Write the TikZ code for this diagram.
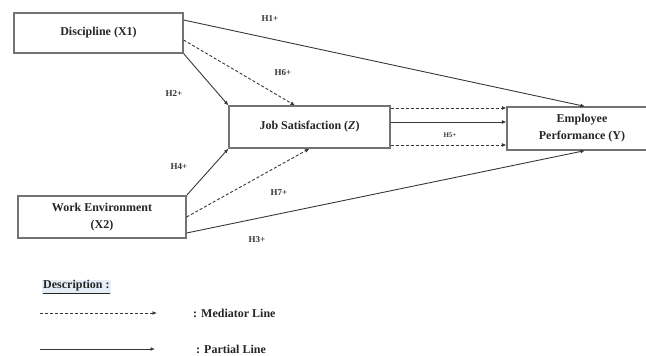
\documentclass[tikz,border=0pt]{standalone}
\usepackage{fontspec}
\setmainfont{Liberation Serif}
\usetikzlibrary{positioning,arrows.meta}
\definecolor{boxgray}{rgb}{0.45,0.45,0.45}
\definecolor{linegray}{rgb}{0.22,0.22,0.22}
\definecolor{descblue}{rgb}{0.90,0.93,0.97}
\tikzstyle{var}=[%
      rectangle, draw=boxgray, line width=1.2pt, fill=white,
      align=center, text=black!85, font=\fontsize{12}{17}\selectfont\bfseries, inner sep=2pt
]
\tikzstyle{hyp}=[%
      text=black!80, font=\fontsize{9}{10}\selectfont\bfseries, inner sep=1pt
]
\tikzstyle{legendtext}=[%
      anchor=west, text=black!85, font=\fontsize{12}{14}\selectfont\bfseries, inner sep=0pt
]
\tikzstyle{partial}=[-{Latex[length=4.5pt,width=4pt]}, draw=linegray, line width=0.9pt]
\tikzstyle{mediator}=[partial, dash pattern=on 3pt off 2pt]

\begin{document}
\begin{tikzpicture}[x=1pt, y=-1pt]
    \useasboundingbox (0,0) rectangle (646,356);

    \node[var, minimum width=169pt, minimum height=40pt] (dis) at (98.5,33)  {Discipline (X1)};
    \node[var, minimum width=161pt, minimum height=42pt] (js)  at (309.5,127) {Job Satisfaction (\textit{Z})};
    \node[var, minimum width=150pt, minimum height=43pt] (ep)  at (582,128.5) {Employee\\Performance (Y)};
    \node[var, minimum width=168pt, minimum height=42pt] (we)  at (102,217)  {Work Environment\\(X2)};

    \path ([yshift=13pt]dis.east) edge[partial] ([xshift=3pt]ep.north)
          ([yshift=-7pt]dis.east) edge[mediator] ([xshift=-14.5pt]js.north)
          (dis.south east) edge[partial] (js.north west)
          (we.north east) edge[partial] (js.south west)
          (we.east) edge[mediator] (js.south)
          ([yshift=-16pt]we.east) edge[partial] ([xshift=3pt]ep.south)
          ([yshift=19pt]js.east) edge[mediator] ([yshift=19pt]js.east -| ep.west)
          ([yshift=5pt]js.east) edge[partial] ([yshift=5pt]js.east -| ep.west)
          ([yshift=-18pt]js.east) edge[mediator] ([yshift=-18pt]js.east -| ep.west)
    ;

    \node[hyp] (h1) at (270,19)  {H1+};
    \node[hyp] (h6) at (283,73)  {H6+};
    \node[hyp] (h2) at (174,94)  {H2+};
    \node[hyp] (h4) at (179,167) {H4+};
    \node[hyp] (h7) at (279,193) {H7+};
    \node[hyp] (h3) at (257,240) {H3+};
    \node[hyp, font=\fontsize{7}{8}\selectfont\bfseries] (h5) at (450,135) {H5+};

    % legend
    \node[legendtext, fill=descblue, inner sep=1pt] (desc) at (42,287) {\underline{Description :}};
    \coordinate (medA) at (40,313);
    \coordinate (medB) at (157,313);
    \coordinate (parA) at (40,349);
    \coordinate (parB) at (155,349);
    \draw[mediator] (medA) -- (medB);
    \draw[partial] (parA) -- (parB);
    \node[legendtext, right=36pt of medB] (medtxt) {: Mediator Line};
    \node[legendtext, right=41pt of parB] (partxt) {: Partial Line};
\end{tikzpicture}
\end{document}
